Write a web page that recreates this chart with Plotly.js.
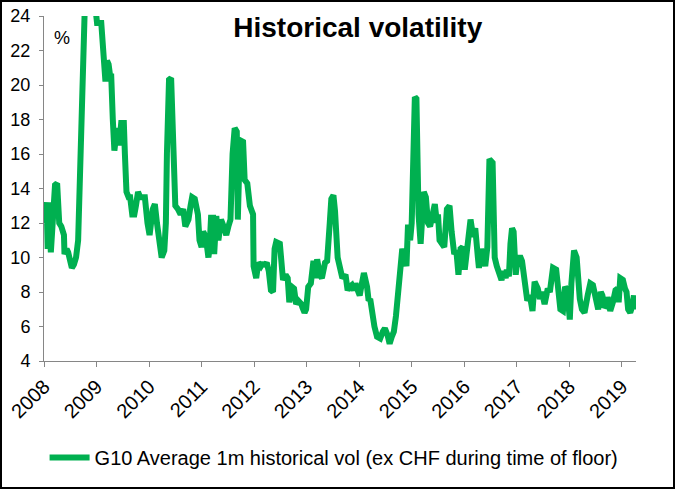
<!DOCTYPE html>
<html>
<head>
<meta charset="utf-8">
<script src="https://cdn.plot.ly/plotly-3.0.1.min.js"></script>
<style>
  html, body { margin: 0; padding: 0; background: #fff; }
  #wrap { position: relative; width: 675px; height: 489px; }
  #chart { width: 675px; height: 489px; }
  #frame { position: absolute; left: 0; top: 0; width: 675px; height: 489px; box-sizing: border-box; border: 2px solid #000; pointer-events: none; }
</style>
</head>
<body>
<div id="wrap"><div id="chart"></div><div id="frame"></div></div>
<script>
// Time in decimal years
const years = [
  2008.00, 2008.05, 2008.07, 2008.09, 2008.13, 2008.21, 2008.25, 2008.29, 2008.33, 2008.38,
  2008.39, 2008.43, 2008.46, 2008.50, 2008.53, 2008.57, 2008.61, 2008.65, 2008.68, 2008.70,
  2008.74, 2008.77, 2008.80, 2008.85, 2008.92, 2008.96, 2008.98, 2009.01, 2009.09, 2009.13,
  2009.15, 2009.17, 2009.20, 2009.23, 2009.26, 2009.28, 2009.31, 2009.33, 2009.34, 2009.39,
  2009.43, 2009.47, 2009.52, 2009.54, 2009.57, 2009.61, 2009.64, 2009.68, 2009.72, 2009.75,
  2009.79, 2009.83, 2009.87, 2009.92, 2009.97, 2010.01, 2010.07, 2010.11, 2010.15, 2010.21,
  2010.24, 2010.29, 2010.32, 2010.34, 2010.38, 2010.42, 2010.44, 2010.46, 2010.50, 2010.55,
  2010.60, 2010.65, 2010.69, 2010.72, 2010.75, 2010.79, 2010.82, 2010.87, 2010.90, 2010.93,
  2010.96, 2011.00, 2011.03, 2011.08, 2011.13, 2011.15, 2011.18, 2011.22, 2011.24, 2011.28,
  2011.32, 2011.37, 2011.42, 2011.47, 2011.51, 2011.53, 2011.55, 2011.59, 2011.63, 2011.67,
  2011.69, 2011.73, 2011.79, 2011.82, 2011.87, 2011.92, 2011.98, 2011.99, 2012.04, 2012.08,
  2012.13, 2012.17, 2012.19, 2012.24, 2012.28, 2012.32, 2012.36, 2012.39, 2012.42, 2012.49,
  2012.52, 2012.55, 2012.60, 2012.64, 2012.67, 2012.72, 2012.76, 2012.80, 2012.84, 2012.90,
  2012.92, 2012.96, 2012.99, 2013.03, 2013.08, 2013.13, 2013.17, 2013.20, 2013.25, 2013.29,
  2013.35, 2013.39, 2013.44, 2013.47, 2013.51, 2013.54, 2013.59, 2013.63, 2013.68, 2013.74,
  2013.78, 2013.82, 2013.86, 2013.90, 2013.93, 2013.96, 2014.01, 2014.04, 2014.09, 2014.15,
  2014.18, 2014.21, 2014.24, 2014.29, 2014.34, 2014.40, 2014.45, 2014.49, 2014.54, 2014.58,
  2014.62, 2014.66, 2014.70, 2014.74, 2014.78, 2014.82, 2014.86, 2014.90, 2014.93, 2014.97,
  2015.00, 2015.06, 2015.09, 2015.13, 2015.17, 2015.19, 2015.23, 2015.27, 2015.31, 2015.35,
  2015.40, 2015.44, 2015.48, 2015.50, 2015.53, 2015.58, 2015.62, 2015.67, 2015.72, 2015.76,
  2015.81, 2015.85, 2015.89, 2015.93, 2015.97, 2016.01, 2016.05, 2016.09, 2016.12, 2016.17,
  2016.21, 2016.26, 2016.28, 2016.32, 2016.35, 2016.40, 2016.44, 2016.48, 2016.54, 2016.58,
  2016.62, 2016.66, 2016.71, 2016.75, 2016.79, 2016.81, 2016.85, 2016.88, 2016.91, 2016.94,
  2016.98, 2017.01, 2017.06, 2017.10, 2017.16, 2017.20, 2017.25, 2017.30, 2017.34, 2017.40,
  2017.44, 2017.48, 2017.53, 2017.59, 2017.63, 2017.69, 2017.75, 2017.79, 2017.83, 2017.88,
  2017.92, 2017.96, 2018.01, 2018.04, 2018.09, 2018.14, 2018.17, 2018.20, 2018.24, 2018.29,
  2018.35, 2018.40, 2018.45, 2018.51, 2018.55, 2018.60, 2018.63, 2018.67, 2018.70, 2018.73,
  2018.78, 2018.83, 2018.88, 2018.92, 2018.94, 2018.97, 2019.02, 2019.06, 2019.09, 2019.12,
  2019.16, 2019.20, 2019.23, 2019.25, 2019.27
];

// G10 average 1m historical vol, %
const vol = [
  12.0, 13.2, 10.5, 13.2, 10.3, 14.2, 14.3, 12.0, 11.8, 11.3,
  10.2, 10.5, 10.3, 9.5, 9.4, 9.6, 10.0, 11.0, 14.0, 18.0,
  20.0, 24.5, 27.0, 30.0, 28.0, 25.0, 24.0, 23.6, 23.6, 22.0,
  21.0, 20.2, 21.4, 21.2, 20.5, 20.5, 18.0, 16.5, 16.2, 17.5,
  16.5, 17.8, 17.8, 16.0, 13.8, 13.5, 13.5, 12.5, 12.5, 13.0,
  13.8, 13.5, 13.5, 13.5, 12.0, 11.3, 12.8, 13.1, 12.0, 10.5,
  10.0, 10.4, 12.0, 16.0, 20.3, 20.4, 19.0, 16.0, 13.0, 12.8,
  12.5, 12.8, 11.8, 12.0, 12.2, 13.0, 13.5, 13.4, 13.0, 12.5,
  11.0, 10.6, 11.5, 11.2, 10.0, 10.5, 12.3, 12.3, 10.2, 12.4,
  11.0, 12.2, 11.8, 11.3, 11.8, 12.2, 12.2, 16.0, 17.5, 17.3,
  12.2, 16.8, 16.7, 14.5, 14.3, 13.0, 12.5, 9.5, 8.8, 9.7,
  9.5, 9.7, 9.5, 9.7, 9.2, 8.1, 8.0, 10.5, 10.9, 10.8,
  9.0, 8.7, 9.0, 8.8, 7.4, 8.3, 8.2, 7.3, 7.5, 7.3,
  7.1, 6.8, 7.0, 8.3, 8.5, 9.8, 8.8, 9.9, 9.0, 8.8,
  9.7, 9.8, 12.0, 13.4, 13.6, 12.7, 10.0, 9.5, 8.8, 9.0,
  8.1, 8.3, 8.4, 8.1, 8.5, 8.2, 7.8, 8.3, 9.1, 8.3,
  7.5, 7.6, 6.8, 6.0, 5.4, 5.3, 5.7, 5.9, 5.5, 5.0,
  5.4, 5.7, 6.6, 8.0, 10.0, 10.5, 10.1, 9.5, 11.9, 11.0,
  12.0, 19.3, 19.2, 12.5, 10.8, 12.0, 13.8, 13.5, 12.0, 11.8,
  12.7, 13.1, 12.0, 12.5, 11.0, 10.7, 10.6, 12.8, 13.0, 11.5,
  10.2, 10.4, 9.0, 10.5, 10.6, 9.3, 10.6, 12.0, 12.2, 11.2,
  11.7, 10.0, 9.4, 10.5, 10.2, 9.5, 10.6, 15.7, 15.5, 10.0,
  9.5, 9.0, 8.7, 9.2, 8.8, 9.3, 8.9, 10.8, 11.7, 11.5,
  9.0, 9.8, 10.1, 9.8, 8.0, 7.5, 7.8, 6.9, 8.6, 8.2,
  7.6, 8.0, 7.3, 8.2, 8.0, 9.4, 9.3, 7.6, 7.0, 6.9,
  8.3, 8.1, 6.4, 8.5, 10.4, 10.0, 8.5, 7.6, 7.0, 6.8,
  7.8, 8.5, 8.4, 7.5, 7.0, 8.0, 7.8, 7.1, 7.2, 7.7,
  6.9, 7.4, 8.1, 8.2, 7.4, 8.8, 8.7, 8.2, 8.0, 7.0,
  6.8, 7.2, 7.8, 7.0, 7.7
];

const yearTicks = [2008, 2009, 2010, 2011, 2012, 2013, 2014, 2015, 2016, 2017, 2018, 2019];
const yearLabels = ['2008', '2009', '2010', '2011', '2012', '2013', '2014', '2015', '2016', '2017', '2018', '2019'];
const seriesName = 'G10 Average 1m historical vol (ex CHF during time of floor)';
const chartTitle = 'Historical volatility';

const FONT = '"Liberation Sans", Arial, sans-serif';
const AXIS_GREY = '#868686';

const trace = {
  x: years,
  y: vol,
  type: 'scatter',
  mode: 'lines',
  name: seriesName,
  line: { color: '#00B050', width: 6 },
  hoverinfo: 'skip'
};

const layout = {
  width: 675,
  height: 489,
  margin: { l: 44, r: 39, t: 16, b: 124, pad: 0 },
  paper_bgcolor: '#ffffff',
  plot_bgcolor: '#ffffff',
  font: { family: FONT, color: '#000000', size: 16 },
  title: {
    text: '<b>' + chartTitle + '</b>',
    font: { family: FONT, size: 28, color: '#000000' },
    x: 0.53, xanchor: 'center', xref: 'paper',
    y: 0.945, yanchor: 'middle', yref: 'container'
  },
  showlegend: true,
  legend: {
    orientation: 'h',
    x: 0.49, xanchor: 'center',
    y: -0.28, yanchor: 'middle',
    font: { family: FONT, size: 20, color: '#000000' },
    bgcolor: 'rgba(0,0,0,0)',
    itemwidth: 40
  },
  xaxis: {
    type: 'linear',
    range: [2008, 2019.27],
    tickvals: yearTicks,
    ticktext: yearLabels,
    tickangle: -45,
    ticks: 'outside',
    ticklen: 5,
    tickcolor: AXIS_GREY,
    tickwidth: 1,
    showline: true,
    linecolor: AXIS_GREY,
    linewidth: 1,
    showgrid: false,
    zeroline: false,
    tickfont: { family: FONT, size: 20, color: '#000000' },
    fixedrange: true
  },
  yaxis: {
    range: [4, 24],
    tickvals: [4, 6, 8, 10, 12, 14, 16, 18, 20, 22, 24],
    ticks: 'outside',
    ticklen: 4,
    tickcolor: AXIS_GREY,
    tickwidth: 1,
    ticklabelstandoff: 5,
    showline: true,
    linecolor: AXIS_GREY,
    linewidth: 1,
    showgrid: false,
    zeroline: false,
    tickfont: { family: FONT, size: 18, color: '#000000' },
    fixedrange: true
  },
  annotations: [{
    text: '%',
    xref: 'paper', yref: 'paper',
    x: 0.03, y: 0.935,
    xanchor: 'center', yanchor: 'middle',
    showarrow: false,
    font: { family: FONT, size: 18, color: '#000000' }
  }]
};

Plotly.newPlot('chart', [trace], layout, { displayModeBar: false, staticPlot: true });
</script>
</body>
</html>
